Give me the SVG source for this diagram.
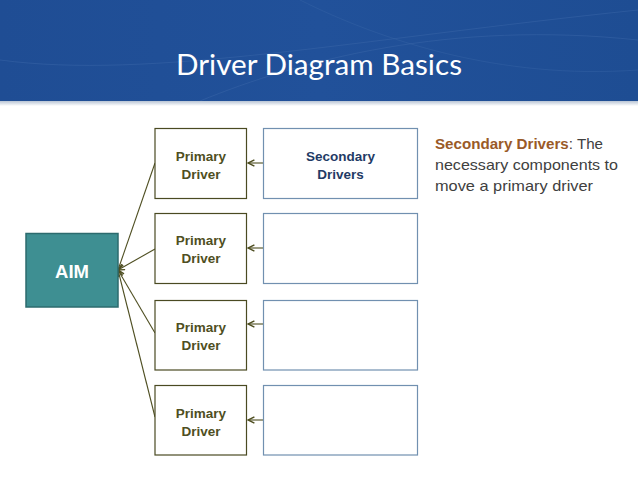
<svg xmlns="http://www.w3.org/2000/svg" width="638" height="479" viewBox="0 0 638 479">
<defs>
<style>
.pbox{fill:#fff;stroke:#4a4a22;stroke-width:1.2}
.sbox{fill:#fff;stroke:#7190b0;stroke-width:1.2}
.ptxt{font-family:"Liberation Sans",Arial,sans-serif;font-weight:bold;font-size:13.5px;fill:#4f4f22;text-anchor:middle}
.stxt{font-family:"Liberation Sans",Arial,sans-serif;font-weight:bold;font-size:13.5px;fill:#1f3b66;text-anchor:middle}
.conn{stroke:#4f4f22;stroke-width:1.1;fill:none;marker-end:url(#arr)}
.desc{font-family:"Liberation Sans",Arial,sans-serif;font-size:15px;fill:#404040}
</style>
<marker id="arr" viewBox="0 0 10 10" refX="9" refY="5" markerWidth="8" markerHeight="8" markerUnits="userSpaceOnUse" orient="auto">
<path d="M1,1 L9,5 L1,9" fill="none" stroke="#4f4f22" stroke-width="1.8"/>
</marker>
<linearGradient id="hdr" x1="0" y1="0" x2="1" y2="0">
<stop offset="0" stop-color="#1f4d94"/>
<stop offset="0.5" stop-color="#21519a"/>
<stop offset="1" stop-color="#1e4d93"/>
</linearGradient>
<linearGradient id="shadow" x1="0" y1="0" x2="0" y2="1">
<stop offset="0" stop-color="#b8c4d4"/>
<stop offset="1" stop-color="#ffffff"/>
</linearGradient>
</defs>
<rect width="638" height="479" fill="#fff"/>
<g id="header">
<rect x="0" y="0" width="638" height="101" fill="url(#hdr)"/>
<path d="M0,60 C150,80 350,40 638,10" stroke="#3a66a8" stroke-width="1" fill="none" opacity="0.5"/>
<path d="M200,101 C300,60 450,20 638,40" stroke="#3a66a8" stroke-width="1" fill="none" opacity="0.5"/>
<path d="M300,0 C380,40 500,80 638,70" stroke="#3a66a8" stroke-width="1" fill="none" opacity="0.4"/>
<rect x="0" y="101" width="638" height="5" fill="url(#shadow)"/>
<text x="176" y="75" font-family="Lato,'Open Sans',sans-serif" font-size="29" fill="#fff" textLength="286" lengthAdjust="spacingAndGlyphs">Driver Diagram Basics</text>
</g>
<g id="connectors">
<line class="conn" x1="155" y1="163" x2="118" y2="270"/>
<line class="conn" x1="155" y1="249" x2="118" y2="270"/>
<line class="conn" x1="155" y1="333" x2="118" y2="270"/>
<line class="conn" x1="155" y1="417" x2="118" y2="270"/>
<line class="conn" x1="263" y1="163" x2="248" y2="163"/>
<line class="conn" x1="263" y1="248" x2="248" y2="248"/>
<line class="conn" x1="263" y1="324" x2="248" y2="324"/>
<line class="conn" x1="263" y1="420" x2="248" y2="420"/>
</g>
<g id="aim">
<rect x="26" y="233.5" width="92" height="73.5" fill="#3e8f92" stroke="#2c6b6e" stroke-width="1.5"/>
<text x="72" y="278" font-family="'Liberation Sans',Arial,sans-serif" font-weight="bold" font-size="18.5" fill="#fff" text-anchor="middle">AIM</text>
</g>
<g id="primary1">
<rect class="pbox" x="155" y="128.5" width="91.5" height="70"/>
<text class="ptxt" x="201" y="161">Primary</text>
<text class="ptxt" x="201" y="179">Driver</text>
</g>
<g id="primary2">
<rect class="pbox" x="155" y="213.5" width="91.5" height="70"/>
<text class="ptxt" x="201" y="245">Primary</text>
<text class="ptxt" x="201" y="263">Driver</text>
</g>
<g id="primary3">
<rect class="pbox" x="155" y="300.5" width="91.5" height="69.5"/>
<text class="ptxt" x="201" y="332">Primary</text>
<text class="ptxt" x="201" y="350">Driver</text>
</g>
<g id="primary4">
<rect class="pbox" x="155" y="385.5" width="91.5" height="69.5"/>
<text class="ptxt" x="201" y="418">Primary</text>
<text class="ptxt" x="201" y="436">Driver</text>
</g>
<g id="secondary1">
<rect class="sbox" x="263.5" y="128.5" width="154" height="70"/>
<text class="stxt" x="340.5" y="161">Secondary</text>
<text class="stxt" x="340.5" y="179">Drivers</text>
</g>
<g id="secondary2">
<rect class="sbox" x="263.5" y="213.5" width="154" height="70"/>
</g>
<g id="secondary3">
<rect class="sbox" x="263.5" y="300.5" width="154" height="69.5"/>
</g>
<g id="secondary4">
<rect class="sbox" x="263.5" y="385.5" width="154" height="69.5"/>
</g>
<g id="description">
<text class="desc" x="435" y="149" textLength="168" lengthAdjust="spacingAndGlyphs"><tspan font-weight="bold" fill="#9a5a28">Secondary Drivers</tspan>: The</text>
<text class="desc" x="435" y="170" textLength="183" lengthAdjust="spacingAndGlyphs">necessary components to</text>
<text class="desc" x="435" y="191" textLength="158" lengthAdjust="spacingAndGlyphs">move a primary driver</text>
</g>
</svg>
